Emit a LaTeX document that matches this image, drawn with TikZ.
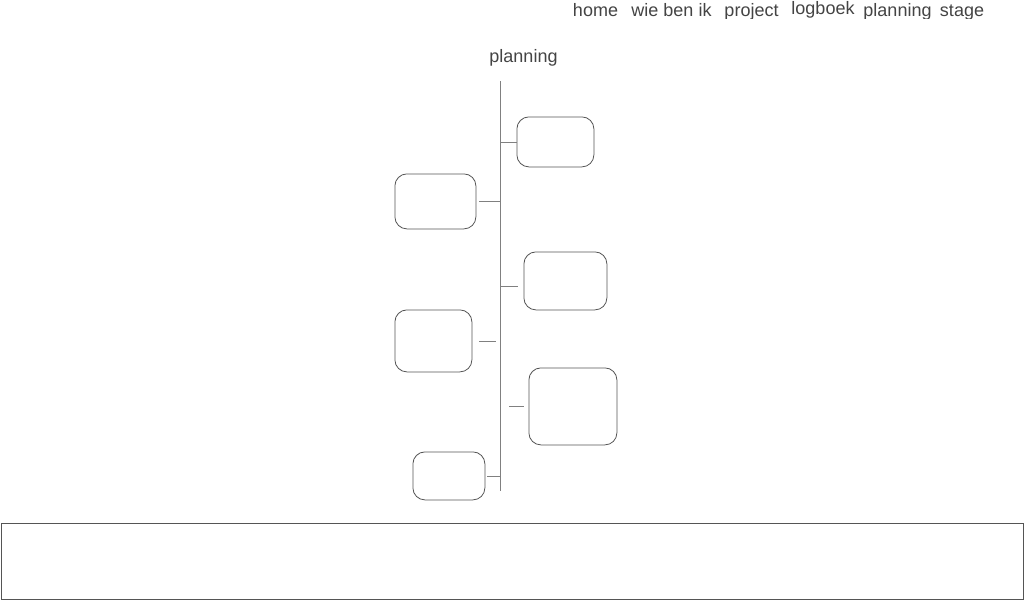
\documentclass[tikz,border=0pt]{standalone}
\usepackage{fontspec}
\setmainfont{Liberation Sans}
\definecolor{txt}{HTML}{444444}
\definecolor{spinec}{HTML}{808080}
\definecolor{boxc}{HTML}{555555}
\begin{document}
\begin{tikzpicture}[x=1pt,y=-1pt,
  menu/.style={text=txt,font=\fontsize{18}{20}\selectfont,inner sep=0pt,anchor=base},
  card/.style={draw=boxc,line width=0.8pt,rounded corners=12pt,inner sep=0pt,anchor=north west},
  conn/.style={draw=spinec,line width=0.8pt},
  spine/.style={draw=spinec,line width=0.9pt}]
\useasboundingbox (0,0) rectangle (1024,600);
\fill[white] (0,0) rectangle (1024,600);
% menu (clipped like the reference)
\begin{scope}
\clip (0,0) rectangle (1024,18.5);
\node[menu] (home) at (595.5,16.5) {home};
\node[menu] (wie) at (671.5,16.5) {wie ben ik};
\node[menu] (project) at (751.5,16.5) {project};
\node[menu] (logboek) at (823,14.5) {logboek};
\node[menu] (plan) at (897.5,16.5) {planning};
\node[menu] (stage) at (962,16.5) {stage};
\end{scope}
% title
\node[menu] (title) at (523.5,62) {planning};
% spine
\coordinate (top) at (500,81);
\coordinate (bot) at (500,491);
\draw[spine] (top) -- (bot);
% cards
\node[card,minimum width=77pt,minimum height=50pt] (b1) at (516.5,116.5) {};
\node[card,minimum width=81pt,minimum height=55pt] (b2) at (394.5,173.5) {};
\node[card,minimum width=83pt,minimum height=58pt] (b3) at (523.5,251.5) {};
\node[card,minimum width=77pt,minimum height=62pt] (b4) at (394.5,309.5) {};
\node[card,minimum width=88pt,minimum height=77pt] (b5) at (528.5,367.5) {};
\node[card,minimum width=72pt,minimum height=48pt] (b6) at (412.5,451.5) {};
% connector ends
\coordinate (s1) at (500,142);
\coordinate (s2) at (500,201);
\coordinate (s3) at (500,286);
\coordinate (s4a) at (479,341);
\coordinate (s4b) at (496,341);
\coordinate (s5a) at (509,406);
\coordinate (s5b) at (524,406);
\coordinate (s6) at (500,476);
\draw[conn] (s1) -- (b1.west |- s1);
\draw[conn] ([xshift=3pt]b2.east |- s2) -- (s2);
\draw[conn] (s3) -- ([xshift=-6pt]b3.west |- s3);
\draw[conn] (s4a) -- (s4b);
\draw[conn] (s5a) -- (s5b);
\draw[conn] ([xshift=2pt]b6.east |- s6) -- (s6);
% footer
\coordinate (f1) at (1,523);
\coordinate (f2) at (1023,599);
\draw[draw=boxc,line width=0.9pt] (f1) rectangle (f2);
\end{tikzpicture}
\end{document}
